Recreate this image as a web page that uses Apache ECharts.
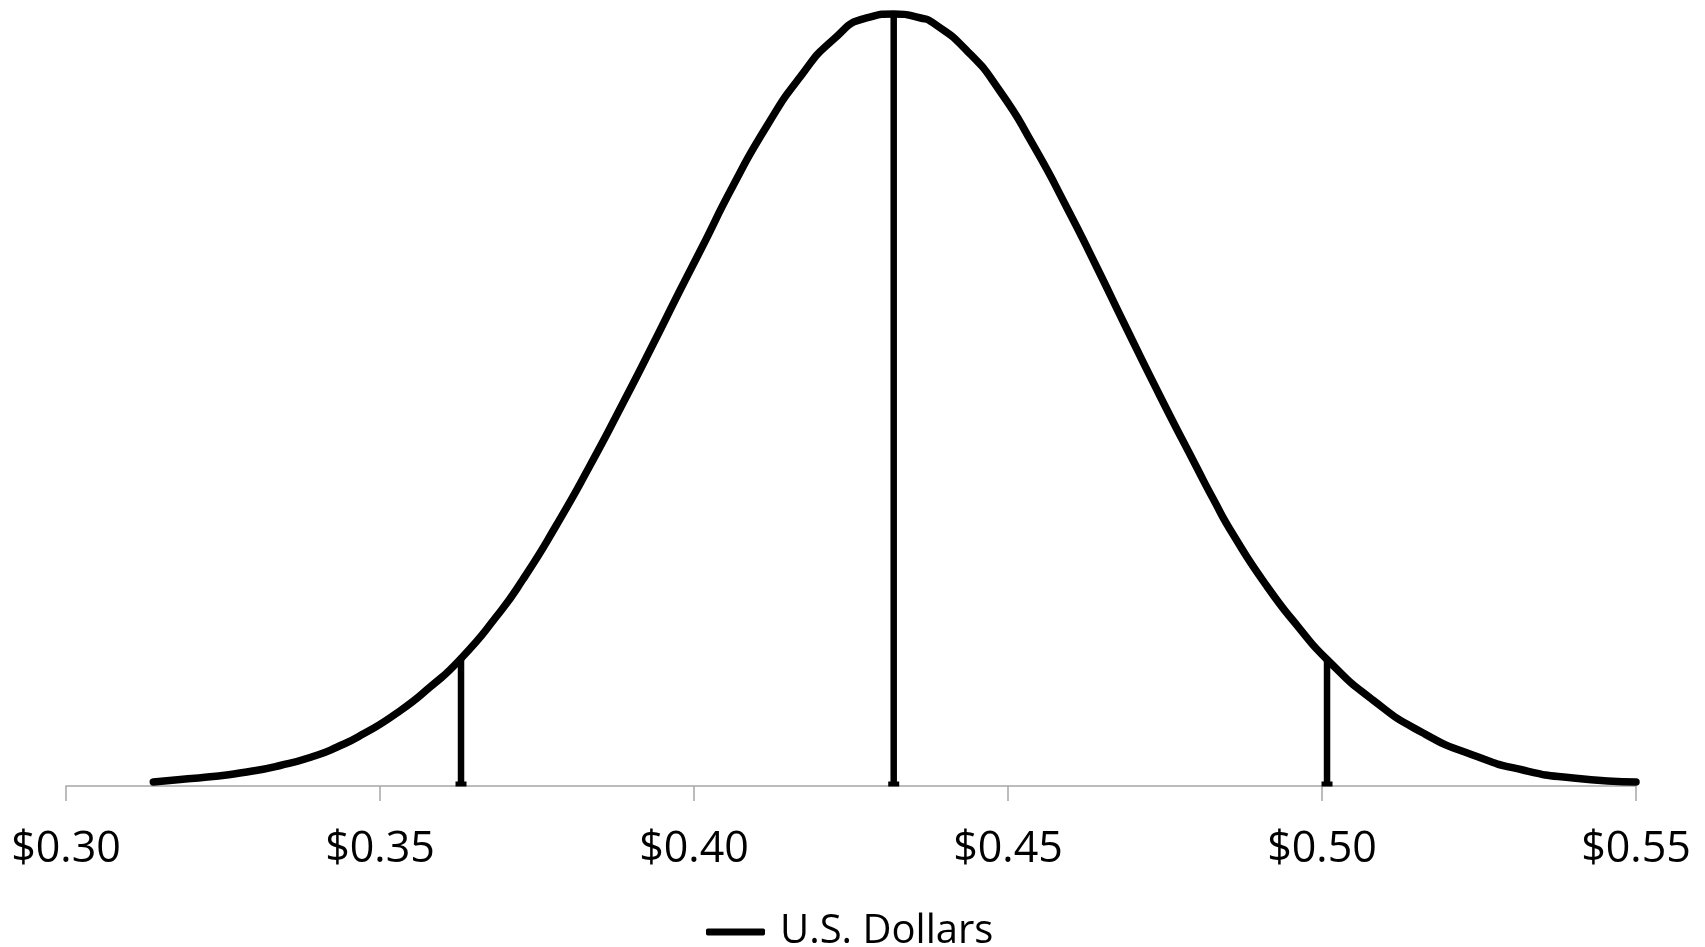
<!DOCTYPE html>
<html>
<head>
<meta charset="utf-8">
<script src="https://cdn.jsdelivr.net/npm/echarts@6/dist/echarts.min.js"></script>
<style>
html,body{margin:0;padding:0;background:#fff;}
#chart{width:1705px;height:947px;}
</style>
</head>
<body>
<div id="chart"></div>
<script>
// Curve points (x in U.S. dollars, y = relative density)
const curveX = [0.3139,0.3182,0.3234,0.3288,0.3341,0.3393,0.3432,0.3473,0.3527,0.3580,0.3629,0.3686,0.3728,0.3782,0.3834,0.3887,0.3935,0.3978,0.4013,0.4062,0.4116,0.4169,0.4221,0.4275,0.4318,0.4361,0.4381,0.4435,0.4487,0.4540,0.4594,0.4642,0.4683,0.4742,0.4801,0.4826,0.4858,0.4912,0.4965,0.5008,0.5081,0.5161,0.5240,0.5320,0.5400,0.5500];
const curveY = [0.060,0.098,0.143,0.210,0.308,0.443,0.586,0.781,1.097,1.488,1.916,2.554,3.110,3.937,4.808,5.755,6.641,7.453,8.099,9.016,9.917,10.653,11.209,11.540,11.600,11.540,11.465,11.044,10.443,9.632,8.685,7.783,6.987,5.860,4.778,4.327,3.787,3.005,2.359,1.901,1.292,0.796,0.466,0.240,0.120,0.060];
// Vertical marker lines (x position and height)
const markerX = [0.3629, 0.4318, 0.5008];
const markerY = [1.916, 11.600, 1.901];
const tickLabels = ['$0.30','$0.35','$0.40','$0.45','$0.50','$0.55'];
const seriesName = 'U.S. Dollars';

const FONT = '"Open Sans", "Liberation Sans", sans-serif';

const curveData = curveX.map((x, i) => [x, curveY[i]]);
const markerSeries = markerX.map((x, i) => ({
  type: 'line',
  name: 'marker' + i,
  data: [
    { value: [x, 0], symbol: 'rect', symbolSize: [11, 5], symbolOffset: [0, -2], itemStyle: { color: '#000' } },
    { value: [x, markerY[i]], symbol: 'none' }
  ],
  showSymbol: true,
  lineStyle: { color: '#000', width: 6.5 },
  clip: false,
  silent: true,
  animation: false,
  z: 3
}));

const chart = echarts.init(document.getElementById('chart'));
chart.setOption({
  backgroundColor: '#ffffff',
  animation: false,
  grid: { left: 66, right: 69, top: 14, bottom: 161, containLabel: false },
  legend: {
    data: [{ name: seriesName, icon: 'roundRect', itemStyle: { color: '#000' } }],
    left: 701,
    top: 907,
    itemWidth: 59,
    itemHeight: 7,
    itemGap: 10,
    textStyle: { fontFamily: FONT, fontSize: 40, color: '#000', padding: [0, 0, 0, 10] }
  },
  xAxis: {
    type: 'value',
    min: 0.30,
    max: 0.55,
    interval: 0.05,
    axisLine: { show: true, lineStyle: { color: '#a6a6a6', width: 1.5 } },
    axisTick: { show: true, length: 15, lineStyle: { color: '#a6a6a6', width: 1.5 } },
    splitLine: { show: false },
    axisLabel: {
      margin: 42,
      fontFamily: FONT,
      fontSize: 43,
      color: '#000',
      formatter: function (v) {
        const idx = Math.round((v - 0.30) / 0.05);
        return tickLabels[idx] !== undefined ? tickLabels[idx] : '';
      }
    }
  },
  yAxis: {
    type: 'value',
    min: 0,
    max: 11.6,
    show: false,
    splitLine: { show: false }
  },
  series: [
    {
      type: 'line',
      name: seriesName,
      data: curveData,
      smooth: 0.6,
      showSymbol: false,
      symbol: 'none',
      lineStyle: { color: '#000', width: 7.5, cap: 'round', join: 'round' },
      itemStyle: { color: '#000' },
      clip: false,
      z: 4
    }
  ].concat(markerSeries)
});
</script>
</body>
</html>
